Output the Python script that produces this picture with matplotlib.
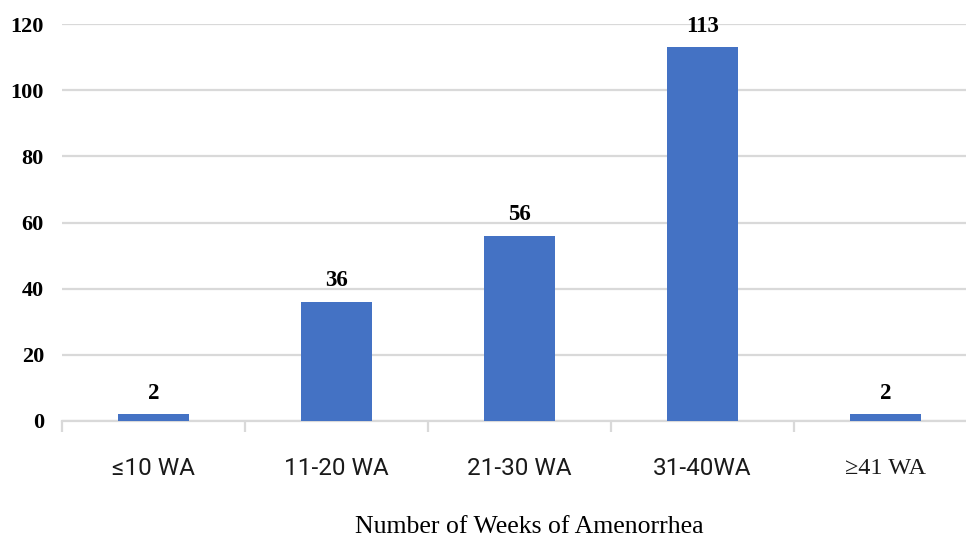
import matplotlib
matplotlib.use("Agg")
import matplotlib.pyplot as plt

# data
categories = ["≤10 WA", "11-20 WA", "21-30 WA", "31-40WA", "≥41 WA"]
counts = [2, 36, 56, 113, 2]
bar_labels = ["2", "36", "56", "113", "2"]
yticks = [0, 20, 40, 60, 80, 100, 120]

fig = plt.figure(figsize=(9.66, 5.4), dpi=100)
ax = fig.add_axes([62/966, 1-421/540, (977-62)/966, (421-24)/540])

x = list(range(len(categories)))
ax.bar(x, counts, width=0.385, color="#4472C4", zorder=3)

ax.set_xlim(-0.5, len(categories) - 0.5)
ax.set_ylim(0, 120)
ax.set_yticks(yticks)
ax.set_yticklabels([str(v) for v in yticks], fontfamily="Liberation Serif",
                   fontweight="bold", fontsize=16)
ax.tick_params(axis="y", length=0, pad=13)

# grid
ax.yaxis.grid(True, color="#D9D9D9", linewidth=1.6, zorder=0)
for s in ["top", "right", "left"]:
    ax.spines[s].set_visible(False)
ax.spines["bottom"].set_color("#D9D9D9")
ax.spines["bottom"].set_linewidth(1.6)

# category boundary ticks
ax.set_xticks([i - 0.5 for i in range(len(categories) + 1)], minor=False)
ax.set_xticklabels([""] * (len(categories) + 1))
ax.tick_params(axis="x", length=8, width=1.6, color="#D9D9D9", direction="out")

for i, lab in enumerate(categories):
    fam = "Liberation Serif" if i == len(categories) - 1 else "Roboto"
    ax.text(i, -14.3, lab, ha="center", va="center", fontsize=17.5,
            fontfamily=fam, color="#1a1a1a")

for i, (v, lab) in enumerate(zip(counts, bar_labels)):
    ax.annotate(lab, (i, v), xytext=(0, 7.5), textcoords="offset points",
                ha="center", va="bottom", fontfamily="Liberation Serif",
                fontweight="bold", fontsize=16.5)

fig.text(529/966, 1-527/540, "Number of Weeks of Amenorrhea", ha="center",
         va="center", fontfamily="Liberation Serif", fontsize=18.5)

fig.savefig("out.png", dpi=100)
